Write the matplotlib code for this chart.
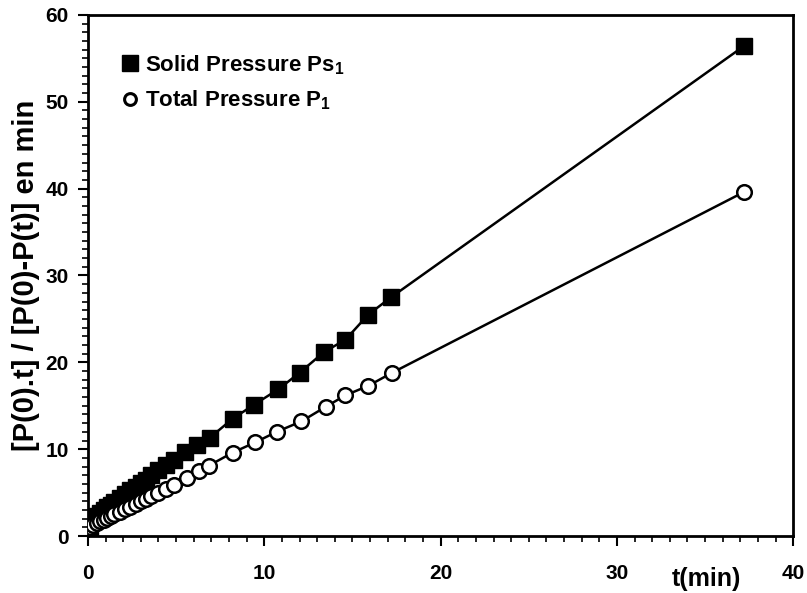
import matplotlib
matplotlib.use("Agg")
import matplotlib.pyplot as plt
from matplotlib.lines import Line2D
from matplotlib.ticker import MultipleLocator

plt.rcParams['font.family'] = ['Liberation Sans', 'DejaVu Sans']
plt.rcParams['font.weight'] = 'bold'
plt.rcParams['mathtext.fontset'] = 'custom'
plt.rcParams['mathtext.bf'] = 'Liberation Sans:bold'
plt.rcParams['mathtext.rm'] = 'Liberation Sans:bold'
plt.rcParams['mathtext.default'] = 'bf'

# Solid pressure Ps1
t_solid = [0.1, 0.3, 0.5, 0.7, 0.9, 1.1, 1.3, 1.5, 1.8, 2.1, 2.4, 2.7, 3.0, 3.3, 3.6,
           4.0, 4.4, 4.9, 5.5, 6.2, 6.9, 8.2, 9.4, 10.8, 12.0, 13.4, 14.6, 15.9, 17.2, 37.2]
v_solid = [1.0, 1.7, 2.3, 2.7, 3.0, 3.3, 3.6, 3.9, 4.4, 4.8, 5.3, 5.7, 6.1, 6.5, 7.0,
           7.6, 8.2, 8.8, 9.7, 10.5, 11.3, 13.5, 15.1, 16.9, 18.8, 21.2, 22.6, 25.5, 27.5, 56.4]

# Total pressure P1
t_total = [0.1, 0.3, 0.5, 0.7, 0.9, 1.1, 1.3, 1.5, 1.8, 2.1, 2.4, 2.7, 3.0, 3.3, 3.6,
           4.0, 4.4, 4.9, 5.6, 6.3, 6.85, 8.2, 9.5, 10.7, 12.1, 13.5, 14.6, 15.9, 17.25, 37.2]
v_total = [1.1, 1.3, 1.5, 1.7, 1.9, 2.1, 2.3, 2.5, 2.8, 3.1, 3.4, 3.7, 4.0, 4.3, 4.6,
           5.0, 5.4, 5.9, 6.7, 7.5, 8.1, 9.6, 10.8, 12.0, 13.2, 14.9, 16.2, 17.3, 18.8, 39.6]

x_ticks = [0, 10, 20, 30, 40]
y_ticks = [0, 10, 20, 30, 40, 50, 60]

fig = plt.figure(figsize=(8.07, 5.93), dpi=100)
ax = fig.add_axes([0.109, 0.096, 0.874, 0.879])

ax.plot(t_solid, v_solid, color='black', lw=1.8, marker='s', ms=11,
        mfc='black', mec='black', zorder=3)
ax.plot(t_total, v_total, color='black', lw=1.8, marker='o', ms=10.5,
        mfc='white', mec='black', mew=1.8, zorder=3)

ax.set_xlim(0, 40)
ax.set_ylim(0, 60)
ax.set_xticks(x_ticks)
ax.set_yticks(y_ticks)
ax.xaxis.set_minor_locator(MultipleLocator(1))
ax.yaxis.set_minor_locator(MultipleLocator(1))
ax.tick_params(which='major', direction='out', length=7, width=1.5, labelsize=15)
ax.tick_params(which='minor', direction='out', length=4, width=1.2)
ax.tick_params(axis='x', which='major', pad=13)
ax.tick_params(axis='y', which='major', pad=7)
for lab in ax.get_xticklabels() + ax.get_yticklabels():
    lab.set_fontweight('bold')
for s in ax.spines.values():
    s.set_linewidth(2)

ax.set_ylabel('[P(0).t] / [P(0)-P(t)] en min', fontsize=21, fontweight='bold', labelpad=4)
fig.text(706 / 807, 1 - 579 / 593, 't(min)', fontsize=18, fontweight='bold',
         ha='center', va='center')

handles = [Line2D([], [], ls='none', marker='s', ms=11, mfc='black', mec='black'),
           Line2D([], [], ls='none', marker='o', ms=8.5, mfc='white', mec='black', mew=2.2)]
labels = ['Solid Pressure Ps$_1$', 'Total Pressure P$_1$']
leg = ax.legend(handles, labels, loc='upper left', bbox_to_anchor=(0.015, 0.965),
                frameon=False, handletextpad=0.2, handlelength=1.0,
                labelspacing=0.55, prop={'weight': 'bold', 'size': 16})

fig.savefig('out.png', dpi=100)
